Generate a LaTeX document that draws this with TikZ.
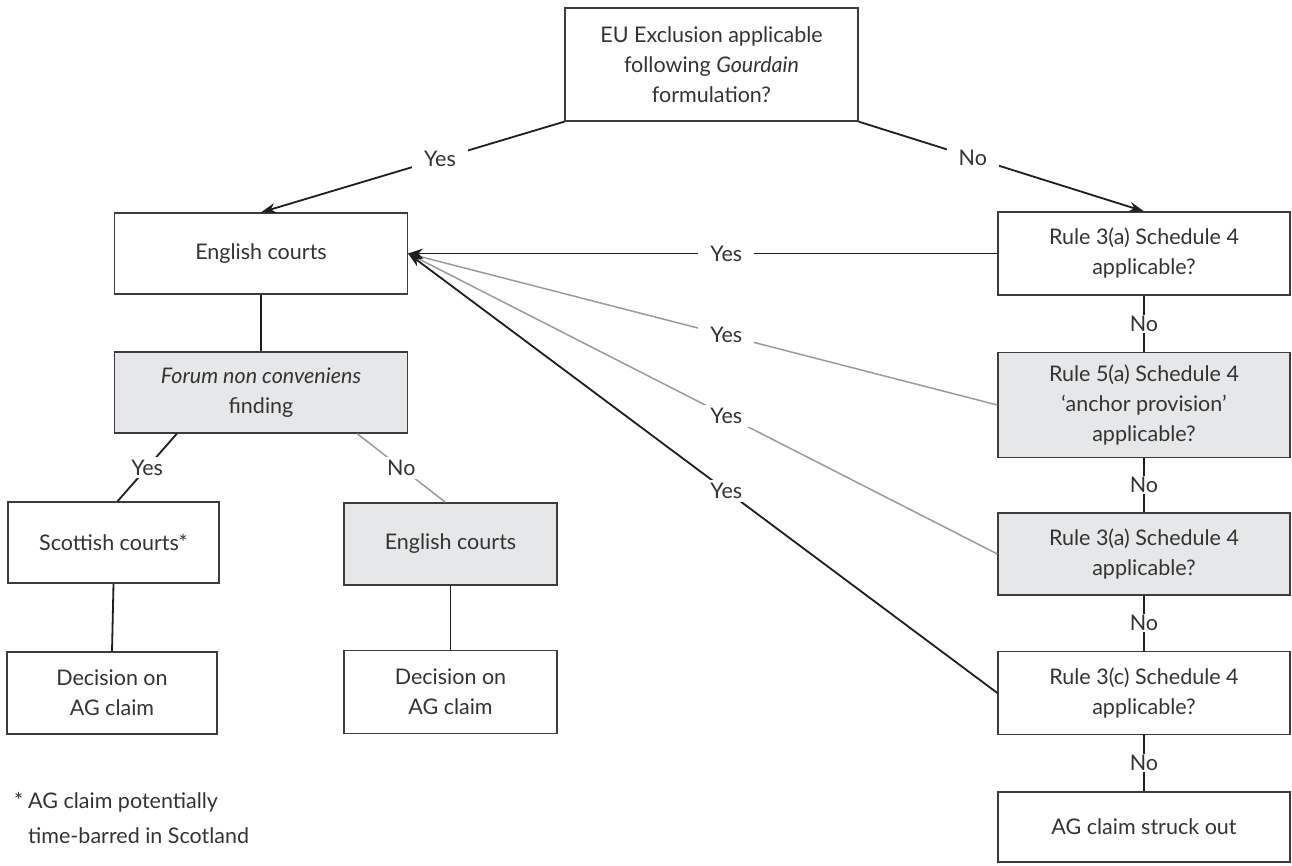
\documentclass[tikz,border=0pt]{standalone}
\usepackage{fontspec}
\setmainfont{Lato}
\usetikzlibrary{arrows.meta}
\definecolor{txt}{HTML}{333333}
\definecolor{boxfill}{HTML}{E6E7E8}
\definecolor{edge}{HTML}{3C3C3C}
\definecolor{greyline}{HTML}{9A9A9A}
\definecolor{blackline}{HTML}{1E1E1E}
\begin{document}
\begin{tikzpicture}[x=1pt,y=-1pt,
  every node/.style={text=txt, font=\fontsize{21.5}{30}\selectfont},
  box/.style={draw=edge, line width=1.3pt, fill=white, align=center, inner sep=0pt},
  shaded/.style={box, fill=boxfill},
  lab/.style={fill=white, inner xsep=12pt, inner ysep=3pt},
  vlab/.style={fill=white, inner xsep=2pt, inner ysep=1pt},
  blk/.style={draw=blackline, line width=1.8pt},
  gry/.style={draw=greyline, line width=1.5pt},
  arr/.style={-{Stealth[length=15pt,width=10pt]}}
]
\useasboundingbox (0,0) rectangle (1292,866);

% left column
\node[box, minimum width=293pt, minimum height=113pt] (top) at (711.5,64.5)
  {EU Exclusion applicable\\following \textit{Gourdain}\\formulation?};
\node[box, minimum width=293pt, minimum height=81pt] (eng1) at (261,253.5) {English courts};
\node[shaded, minimum width=293pt, minimum height=81pt] (forum) at (261,392.5)
  {\textit{Forum non conveniens}\\finding};
\node[box, minimum width=211pt, minimum height=81pt] (scot) at (113.5,542.5) {Scottish courts*};
\node[box, minimum width=210pt, minimum height=82pt] (dec1) at (112,693) {Decision on\\AG claim};
\node[shaded, minimum width=213pt, minimum height=82pt] (eng2) at (450.5,544) {English courts};
\node[box, minimum width=213pt, minimum height=83pt] (dec2) at (450.5,692) {Decision on\\AG claim};

% right column
\node[box, minimum width=292pt, minimum height=83pt] (r1) at (1144,253.5)
  {Rule 3(a) Schedule 4\\applicable?};
\node[shaded, minimum width=292pt, minimum height=105pt] (r2) at (1144,405)
  {Rule 5(a) Schedule 4\\‘anchor provision’\\applicable?};
\node[shaded, minimum width=292pt, minimum height=82pt] (r3) at (1144,554)
  {Rule 3(a) Schedule 4\\applicable?};
\node[box, minimum width=292pt, minimum height=83pt] (r4) at (1144,693)
  {Rule 3(c) Schedule 4\\applicable?};
\node[box, minimum width=292pt, minimum height=70pt] (r5) at (1144,827)
  {AG claim struck out};

% footnote
\node[anchor=north west, align=left, inner sep=0pt,
  font=\fontsize{21.5}{35}\selectfont] (fn) at (28,792)
  {\llap{*\hspace{5pt}}AG claim potentially\\time-barred in Scotland};

% connectors from top
\draw[blk, arr] (top.south west) -- node[lab, pos=0.41] {Yes} (eng1.north);
\draw[blk, arr] (top.south east) -- node[lab, pos=0.40] {No} (r1.north);

% grey Yes lines
\draw[gry] (r2.west) -- node[lab, pos=0.46] {Yes} (eng1.east);
\draw[gry] (r3.west) -- node[lab, pos=0.46] {Yes} (eng1.east);
% black Yes lines
\draw[blk, arr] (r1.west) -- node[lab, pos=0.46] {Yes} (eng1.east);
\draw[blk, arr] (r4.west) -- node[lab, pos=0.46] {Yes} (eng1.east);

% right column No connectors
\draw[blk] (r1.south) -- node[vlab] {No} (r2.north);
\draw[blk] (r2.south) -- node[vlab] {No} (r3.north);
\draw[blk] (r3.south) -- node[vlab] {No} (r4.north);
\draw[blk] (r4.south) -- node[vlab] {No} (r5.north);

% left tree
\draw[blk] (eng1.south) -- (forum.north);
\draw[blk] ([xshift=63pt]forum.south west) -- node[lab, inner xsep=6pt] {Yes} ([xshift=4pt]scot.north);
\draw[gry] ([xshift=-51pt]forum.south east) -- node[lab, inner xsep=6pt] {No} ([xshift=-5pt]eng2.north);
\draw[blk] (scot.south) -- (dec1.north);
\draw[blk] (eng2.south) -- (dec2.north);
\end{tikzpicture}
\end{document}
